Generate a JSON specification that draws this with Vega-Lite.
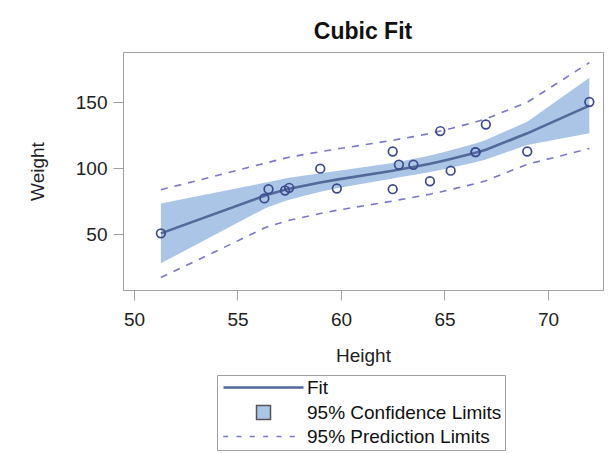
{
  "$schema": "https://vega.github.io/schema/vega-lite/v6.json",
  "autosize": {"type": "none"},
  "width": 480,
  "height": 238,
  "padding": {"left": 123, "top": 52, "right": 6, "bottom": 163},
  "background": "white",
  "title": {"text": "Cubic Fit", "fontSize": 23, "font": "Liberation Sans", "fontWeight": "bold", "color": "#111", "anchor": "middle", "offset": 8},
  "config": {
    "view": {"stroke": "#a0a0a0", "strokeWidth": 1},
    "axis": {"grid": false, "domain": false, "tickColor": "#a0a0a0", "tickSize": 10, "tickWidth": 1, "labelFont": "Liberation Sans", "labelFontSize": 19, "labelColor": "#222", "titleFont": "Liberation Sans", "titleFontSize": 19, "titleFontWeight": "normal", "titleColor": "#222"}
  },
  "datasets": {
    "pts": [
      {"Height": 69.0, "Weight": 112.5}, {"Height": 56.5, "Weight": 84.0}, {"Height": 65.3, "Weight": 98.0},
      {"Height": 62.8, "Weight": 102.5}, {"Height": 63.5, "Weight": 102.5}, {"Height": 57.3, "Weight": 83.0},
      {"Height": 59.8, "Weight": 84.5}, {"Height": 62.5, "Weight": 112.5}, {"Height": 62.5, "Weight": 84.0},
      {"Height": 59.0, "Weight": 99.5}, {"Height": 51.3, "Weight": 50.5}, {"Height": 64.3, "Weight": 90.0},
      {"Height": 56.3, "Weight": 77.0}, {"Height": 66.5, "Weight": 112.0}, {"Height": 72.0, "Weight": 150.0},
      {"Height": 64.8, "Weight": 128.0}, {"Height": 67.0, "Weight": 133.0}, {"Height": 57.5, "Weight": 85.0},
      {"Height": 66.5, "Weight": 112.0}
    ],
    "fit": [
      {"Height": 51.3, "fit": 50.5, "lcl": 27.8, "ucl": 73.2, "lpl": 17.0, "upl": 83.5},
      {"Height": 56.3, "fit": 79.0, "lcl": 69.2, "ucl": 88.8, "lpl": 54.5, "upl": 103.5},
      {"Height": 56.5, "fit": 80.0, "lcl": 70.5, "ucl": 89.5, "lpl": 55.7, "upl": 104.3},
      {"Height": 57.3, "fit": 83.5, "lcl": 75.0, "ucl": 92.0, "lpl": 59.5, "upl": 107.5},
      {"Height": 57.5, "fit": 84.3, "lcl": 76.0, "ucl": 92.6, "lpl": 60.4, "upl": 108.2},
      {"Height": 59.0, "fit": 89.0, "lcl": 82.0, "ucl": 96.0, "lpl": 65.6, "upl": 112.4},
      {"Height": 59.8, "fit": 91.2, "lcl": 84.6, "ucl": 97.8, "lpl": 68.0, "upl": 114.4},
      {"Height": 62.5, "fit": 98.0, "lcl": 92.1, "ucl": 103.9, "lpl": 75.0, "upl": 121.0},
      {"Height": 62.8, "fit": 98.9, "lcl": 93.0, "ucl": 104.8, "lpl": 75.9, "upl": 121.9},
      {"Height": 63.5, "fit": 100.8, "lcl": 94.8, "ucl": 106.8, "lpl": 77.8, "upl": 123.8},
      {"Height": 64.3, "fit": 103.2, "lcl": 97.0, "ucl": 109.4, "lpl": 80.2, "upl": 126.2},
      {"Height": 64.8, "fit": 105.0, "lcl": 98.6, "ucl": 111.4, "lpl": 81.9, "upl": 128.1},
      {"Height": 65.3, "fit": 106.8, "lcl": 100.2, "ucl": 113.4, "lpl": 83.7, "upl": 129.9},
      {"Height": 66.5, "fit": 111.5, "lcl": 104.4, "ucl": 118.6, "lpl": 88.2, "upl": 134.8},
      {"Height": 67.0, "fit": 113.8, "lcl": 106.4, "ucl": 121.2, "lpl": 90.4, "upl": 137.2},
      {"Height": 69.0, "fit": 126.3, "lcl": 117.5, "ucl": 135.1, "lpl": 102.8, "upl": 149.8},
      {"Height": 72.0, "fit": 147.3, "lcl": 126.3, "ucl": 168.3, "lpl": 114.8, "upl": 179.8}
    ]
  },
  "encoding": {
    "x": {"field": "Height", "type": "quantitative", "scale": {"domain": [49.47, 72.66], "nice": false, "zero": false},
          "axis": {"values": [50, 55, 60, 65, 70], "title": "Height", "labelPadding": 10, "titlePadding": 17}}
  },
  "layer": [
    {
      "data": {"name": "fit"},
      "mark": {"type": "area", "fill": "#abc5e6", "opacity": 1},
      "encoding": {
        "y": {"field": "lcl", "type": "quantitative", "scale": {"domain": [7.6, 187.9], "nice": false, "zero": false},
              "axis": {"values": [50, 100, 150], "title": "Weight", "labelPadding": 6, "titlePadding": 28}},
        "y2": {"field": "ucl"}
      }
    },
    {
      "data": {"name": "fit"},
      "mark": {"type": "line", "stroke": "#7a78c8", "strokeWidth": 1.6, "strokeDash": [7, 7]},
      "encoding": {"y": {"field": "upl", "type": "quantitative"}}
    },
    {
      "data": {"name": "fit"},
      "mark": {"type": "line", "stroke": "#7a78c8", "strokeWidth": 1.6, "strokeDash": [7, 7]},
      "encoding": {"y": {"field": "lpl", "type": "quantitative"}}
    },
    {
      "data": {"name": "fit"},
      "mark": {"type": "line", "strokeWidth": 2.6},
      "encoding": {
        "y": {"field": "fit", "type": "quantitative"},
        "color": {"datum": "Fit", "type": "nominal",
          "scale": {"domain": ["Fit", "95% Confidence Limits", "95% Prediction Limits"], "range": ["#52699a", "#555555", "#7a78c8"]},
          "legend": {
            "title": null, "orient": "none", "legendX": 94, "legendY": 323, "direction": "vertical",
            "padding": 3, "strokeColor": "#a0a0a0", "fillColor": "white", "rowPadding": 4,
            "labelFont": "Liberation Sans", "labelFontSize": 19, "labelColor": "#111", "labelOffset": 68, "labelLimit": 400,
            "symbolSize": 100, "symbolStrokeWidth": 2,
            "encode": {
              "symbols": {"update": {
                "shape": {"signal": "datum.value === 'Fit' ? 'M-1.2,0H14.8' : datum.value === '95% Confidence Limits' ? 'M5.4,-1.4H8.2V1.4H5.4Z' : 'M-1.26,0H-0.26M1.4,0H2.4M4.06,0H5.06M6.74,0H7.74M9.4,0H10.4M12.06,0H13.06'"},
                "fill": {"signal": "datum.value === '95% Confidence Limits' ? '#abc5e6' : 'transparent'"},
                "stroke": {"signal": "datum.value === 'Fit' ? '#52699a' : datum.value === '95% Confidence Limits' ? '#555555' : '#7a78c8'"},
                "strokeWidth": {"signal": "datum.value === 'Fit' ? 2.6 : datum.value === '95% Confidence Limits' ? 1.5 : 1.6"},
                "opacity": {"value": 1}
              }}
            }
          }
        }
      }
    },
    {
      "data": {"name": "pts"},
      "mark": {"type": "point", "shape": "circle", "filled": false, "stroke": "#3d4b8e", "strokeWidth": 1.7, "size": 75, "opacity": 1},
      "encoding": {"y": {"field": "Weight", "type": "quantitative"}}
    }
  ]
}
